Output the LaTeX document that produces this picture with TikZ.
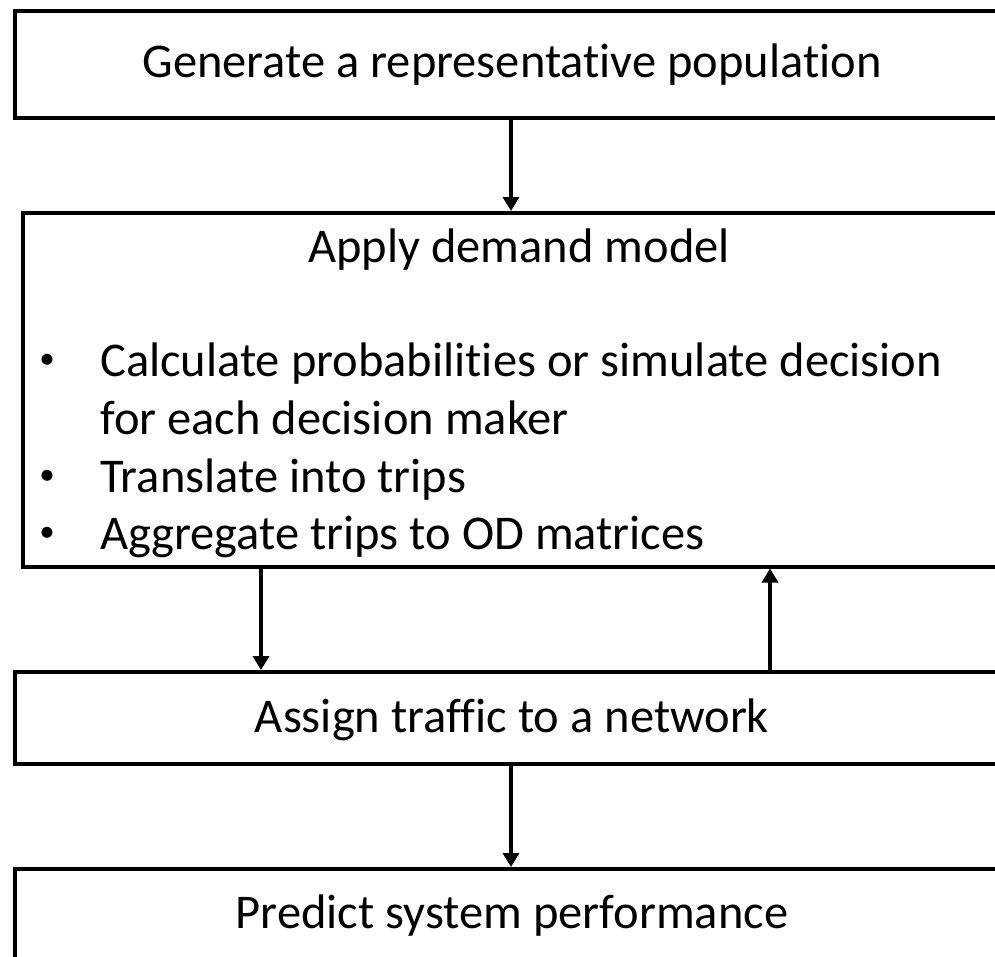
\documentclass[tikz,border=0pt]{standalone}
\usepackage{fontspec}
\setmainfont{Carlito}[Ligatures={NoCommon}]
\usetikzlibrary{arrows.meta}
\begin{document}
\begin{tikzpicture}[x=1pt,y=-1pt,
  boxstyle/.style={draw=black, line width=3.5pt, anchor=north west, inner sep=0pt},
  arr/.style={line width=4pt, -{Triangle[width=16pt,length=14pt]}},
  lbl/.style={anchor=base, inner sep=0pt, font=\fontsize{48.5}{58}\selectfont},
  lbll/.style={anchor=base west, inner sep=0pt, font=\fontsize{48.5}{58}\selectfont},
  bul/.style={anchor=base, inner sep=0pt, font=\fontsize{31}{36}\selectfont}]
\useasboundingbox (0,0) rectangle (995,956);
\clip (0,0) rectangle (995,956);
\node[boxstyle, minimum width=1000pt, minimum height=107pt] (b1) at (13,9) {};
\node[boxstyle, minimum width=1000pt, minimum height=354pt] (b2) at (21,211) {};
\node[boxstyle, minimum width=1000pt, minimum height=92pt] (b3) at (13,670) {};
\node[boxstyle, minimum width=1000pt, minimum height=120pt] (b4) at (13,867) {};
\node[lbl] (t1) at (512,77) {Generate a representative population};
\node[lbl] (t2) at (519,262) {Apply demand model};
\node[bul] (k1) at (47,368) {•};
\node[lbll] (l1) at (100,376) {Calculate probabilities or simulate decision};
\node[lbll] (l2) at (100,434) {for each decision maker};
\node[bul] (k2) at (47,484) {•};
\node[lbll] (l3) at (100,492) {Translate into trips};
\node[bul] (k3) at (47,541) {•};
\node[lbll] (l4) at (100,549) {Aggregate trips to OD matrices};
\node[lbl] (t3) at (512,732) {Assign traffic to a network};
\node[lbl] (t4) at (512,928) {Predict system performance};
\draw[arr] (b1.south -| 511,0) -- (b2.north -| 511,0);
\draw[arr] (b2.south -| 261,0) -- (b3.north -| 261,0);
\draw[arr] (b3.north -| 770,0) -- (b2.south -| 770,0);
\draw[arr] (b3.south -| 511,0) -- (b4.north -| 511,0);
\end{tikzpicture}
\end{document}
